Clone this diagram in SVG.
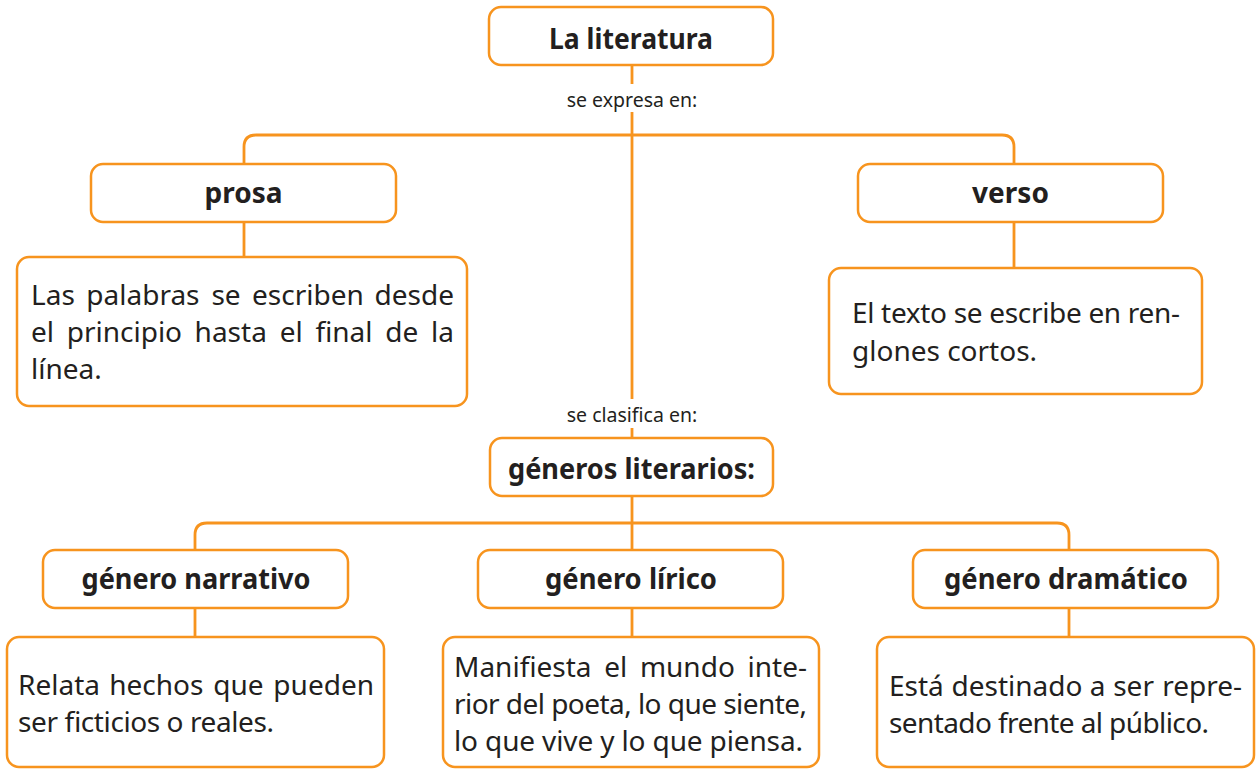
<svg xmlns="http://www.w3.org/2000/svg" width="1256" height="769" viewBox="0 0 1256 769">
<style>
.box{fill:#fff;stroke:#F7941E;stroke-width:2.5}
.ln{fill:none;stroke:#F7941E;stroke-width:2.8}
.h{font-family:"Noto Sans","Open Sans",sans-serif;font-weight:bold;font-size:28px;fill:#231F20;text-anchor:middle}
.b{font-family:"Noto Sans","Open Sans",sans-serif;font-size:28px;fill:#231F20}
.e{text-anchor:end}
.lab{font-family:"Noto Sans","Open Sans",sans-serif;font-size:19.5px;fill:#231F20;text-anchor:middle}
</style>
<rect width="1256" height="769" fill="#fff"/>
<g id="connectors">
<path class="ln" d="M632,65 V84 M632,112 V399 M632,428 V438"/>
<path class="ln" d="M244,164 V147 Q244,135 256,135 H1002 Q1014,135 1014,147 V164"/>
<path class="ln" d="M244,222 V257 M1014,222 V268"/>
<path class="ln" d="M632,496 V550"/>
<path class="ln" d="M195,550 V535 Q195,523 207,523 H1057 Q1069,523 1069,535 V550"/>
<path class="ln" d="M195,608 V637 M632,608 V637 M1069,608 V637"/>
<text class="lab" x="632" y="107">se expresa en:</text>
<text class="lab" x="632" y="422">se clasifica en:</text>
</g>
<g id="literatura">
<rect class="box" x="489" y="7" width="284" height="58" rx="12"/>
<text class="h" x="631" y="49" textLength="164" lengthAdjust="spacingAndGlyphs">La literatura</text>
</g>
<g id="prosa">
<rect class="box" x="91" y="164" width="305" height="58" rx="12"/>
<text class="h" x="243.5" y="203">prosa</text>
</g>
<g id="prosa-desc">
<rect class="box" x="17" y="257" width="450" height="149" rx="12"/>
<text class="b" y="305"><tspan x="31">Las</tspan><tspan x="86.3">palabras</tspan><tspan x="211.4">se</tspan><tspan x="252">escriben</tspan></text>
<text class="b e" x="454" y="305">desde</text>
<text class="b" y="342"><tspan x="31">el</tspan><tspan x="66.7">principio</tspan><tspan x="194.6">hasta</tspan><tspan x="279.7">el</tspan><tspan x="315.4">final</tspan><tspan x="385.3">de</tspan></text>
<text class="b e" x="454" y="342">la</text>
<text class="b" x="31" y="379">línea.</text>
</g>
<g id="verso">
<rect class="box" x="858" y="164" width="305" height="58" rx="12"/>
<text class="h" x="1010.5" y="203">verso</text>
</g>
<g id="verso-desc">
<rect class="box" x="829" y="268" width="373" height="126" rx="12"/>
<text class="b" x="852" y="323" textLength="328" lengthAdjust="spacing">El texto se escribe en ren-</text>
<text class="b" x="852" y="361">glones cortos.</text>
</g>
<g id="generos">
<rect class="box" x="490" y="438" width="283" height="58" rx="12"/>
<text class="h" x="631.5" y="479" textLength="247" lengthAdjust="spacingAndGlyphs">géneros literarios:</text>
</g>
<g id="narrativo">
<rect class="box" x="43" y="550" width="305" height="58" rx="12"/>
<text class="h" x="196" y="589" textLength="229" lengthAdjust="spacingAndGlyphs">género narrativo</text>
</g>
<g id="narrativo-desc">
<rect class="box" x="7" y="637" width="377" height="130" rx="12"/>
<text class="b" y="695"><tspan x="18">Relata</tspan><tspan x="109.2">hechos</tspan><tspan x="213.3">que</tspan></text>
<text class="b e" x="374" y="695">pueden</text>
<text class="b" x="18" y="732" textLength="256" lengthAdjust="spacing">ser ficticios o reales.</text>
</g>
<g id="lirico">
<rect class="box" x="478" y="550" width="305" height="58" rx="12"/>
<text class="h" x="631" y="589" textLength="172" lengthAdjust="spacingAndGlyphs">género lírico</text>
</g>
<g id="lirico-desc">
<rect class="box" x="443" y="637" width="376" height="130" rx="12"/>
<text class="b" y="677"><tspan x="454">Manifiesta</tspan><tspan x="604.2">el</tspan><tspan x="639.9">mundo</tspan></text>
<text class="b e" x="807" y="677">inte-</text>
<text class="b" x="454" y="714" textLength="353" lengthAdjust="spacing">rior del poeta, lo que siente,</text>
<text class="b" x="454" y="751" textLength="349" lengthAdjust="spacing">lo que vive y lo que piensa.</text>
</g>
<g id="dramatico">
<rect class="box" x="913" y="550" width="305" height="58" rx="12"/>
<text class="h" x="1066" y="589" textLength="244" lengthAdjust="spacingAndGlyphs">género dramático</text>
</g>
<g id="dramatico-desc">
<rect class="box" x="877" y="637" width="377" height="130" rx="12"/>
<text class="b" y="696"><tspan x="889">Está</tspan><tspan x="951.5">destinado</tspan><tspan x="1089.8">a</tspan><tspan x="1113.2">ser</tspan></text>
<text class="b e" x="1242" y="696">repre-</text>
<text class="b" x="889" y="733" textLength="320" lengthAdjust="spacing">sentado frente al público.</text>
</g>
</svg>
